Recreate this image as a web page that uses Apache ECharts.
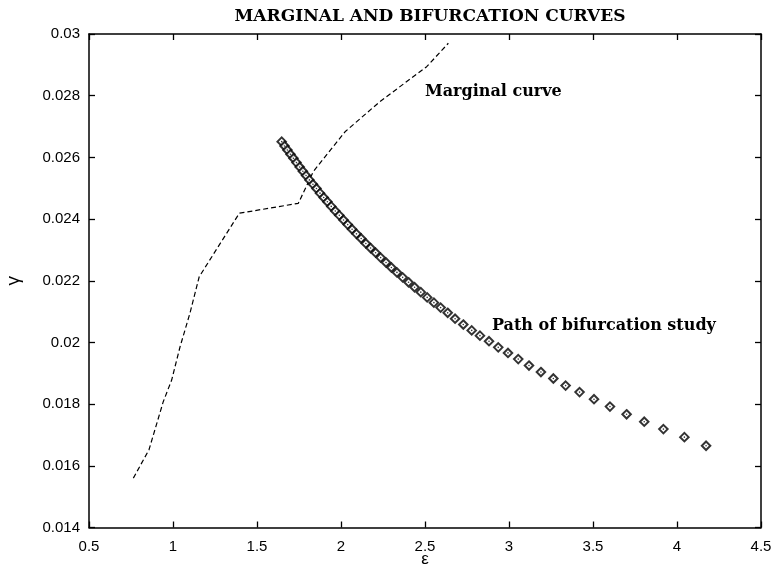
<!DOCTYPE html>
<html>
<head>
<meta charset="utf-8">
<script src="https://cdn.jsdelivr.net/npm/echarts@6/dist/echarts.min.js"></script>
<style>html,body{margin:0;padding:0;background:#fff;}#c{width:772px;height:568px;}</style>
</head>
<body>
<div id="c"></div>
<script>
const titleText = 'MARGINAL AND BIFURCATION CURVES';
const xName = 'ε';
const yName = 'γ';
const marginalLabel = 'Marginal curve';
const pathLabel = 'Path of bifurcation study';

const marginalEps = [0.764, 0.857, 0.942, 0.992, 1.042, 1.101, 1.156, 1.395, 1.746, 1.835, 2.024, 2.232, 2.510, 2.639];
const marginalGamma = [0.0156, 0.01652, 0.01808, 0.01878, 0.01986, 0.02095, 0.02213, 0.02419, 0.02451, 0.02554, 0.02683, 0.02781, 0.02894, 0.0297];

const pathEps = [1.647,1.664,1.681,1.699,1.717,1.735,1.754,1.773,1.792,1.812,1.833,1.854,1.875,1.897,1.919,1.942,1.966,1.990,2.015,2.040,2.066,2.092,2.120,2.148,2.176,2.206,2.236,2.268,2.300,2.333,2.367,2.402,2.438,2.475,2.513,2.553,2.593,2.635,2.679,2.728,2.778,2.827,2.881,2.936,2.994,3.055,3.119,3.190,3.264,3.337,3.420,3.506,3.601,3.700,3.805,3.919,4.044,4.173];
const pathGamma = [0.02651,0.02637,0.02624,0.02610,0.02597,0.02583,0.02569,0.02555,0.02541,0.02527,0.02513,0.02499,0.02484,0.02470,0.02456,0.02441,0.02426,0.02412,0.02397,0.02382,0.02367,0.02352,0.02337,0.02321,0.02306,0.02291,0.02275,0.02259,0.02243,0.02227,0.02211,0.02195,0.02179,0.02163,0.02146,0.02129,0.02113,0.02096,0.02077,0.02058,0.02039,0.02022,0.02004,0.01984,0.01966,0.01946,0.01925,0.01904,0.01883,0.0186,0.01839,0.01816,0.01792,0.01767,0.01743,0.01719,0.01693,0.01665];

const xTicks = [0.5, 1, 1.5, 2, 2.5, 3, 3.5, 4, 4.5];
const yTicks = [0.014, 0.016, 0.018, 0.02, 0.022, 0.024, 0.026, 0.028, 0.03];

const marginalData = marginalEps.map((e, i) => [e, marginalGamma[i]]);
const pathData = pathEps.map((e, i) => [e, pathGamma[i]]);

const chart = echarts.init(document.getElementById('c'), null, {renderer: 'canvas'});
const sans = 'Liberation Sans';
const serif = 'DejaVu Serif';
const axisLine = {show: true, lineStyle: {color: '#000', width: 1.5}};
const tick = {show: true, inside: true, length: 6, lineStyle: {color: '#000', width: 1.3}};

function fmtY(v) { return String(parseFloat(v.toFixed(4))); }
function fmtX(v) { return String(parseFloat(v.toFixed(2))); }

chart.setOption({
  animation: false,
  backgroundColor: '#fff',
  title: {
    text: titleText, left: 425, top: 3, textAlign: 'center',
    textStyle: {fontFamily: serif, fontWeight: 'bold', fontSize: 17, color: '#000'}
  },
  grid: {left: 89, right: 11, top: 34, bottom: 40.5, containLabel: false, outerBoundsMode: 'none'},
  xAxis: [{
    type: 'value', min: xTicks[0], max: xTicks[xTicks.length - 1], interval: 0.5,
    position: 'bottom',
    name: xName, nameLocation: 'middle', nameGap: 23, nameMoveOverlap: false,
    nameTextStyle: {fontFamily: sans, fontSize: 17, color: '#000'},
    axisLine: axisLine, axisTick: tick, splitLine: {show: false},
    axisLabel: {fontFamily: sans, fontSize: 15, color: '#000', margin: 12, formatter: fmtX}
  }, {
    type: 'value', min: xTicks[0], max: xTicks[xTicks.length - 1], interval: 0.5,
    position: 'top', axisLine: axisLine, axisTick: tick, splitLine: {show: false},
    axisLabel: {show: false}
  }],
  yAxis: [{
    type: 'value', min: yTicks[0], max: yTicks[yTicks.length - 1], interval: 0.002,
    position: 'left',
    name: yName, nameLocation: 'middle', nameGap: 66, nameRotate: 90, nameMoveOverlap: false,
    nameTextStyle: {fontFamily: sans, fontSize: 19, color: '#000'},
    axisLine: axisLine, axisTick: tick, splitLine: {show: false},
    axisLabel: {fontFamily: sans, fontSize: 15, color: '#000', margin: 9, formatter: fmtY}
  }, {
    type: 'value', min: yTicks[0], max: yTicks[yTicks.length - 1], interval: 0.002,
    position: 'right', axisLine: axisLine, axisTick: tick, splitLine: {show: false},
    axisLabel: {show: false}
  }],
  series: [{
    type: 'line', data: marginalData, xAxisIndex: 0, yAxisIndex: 0,
    showSymbol: false, symbol: 'none',
    lineStyle: {color: '#000', width: 1.2, type: [5, 3]},
    z: 2
  }, {
    type: 'scatter', data: pathData, xAxisIndex: 0, yAxisIndex: 0,
    symbol: 'diamond', symbolSize: 8.5,
    itemStyle: {color: '#fff', borderColor: '#000', borderWidth: 2},
    z: 3
  }, {
    type: 'scatter', data: pathData, xAxisIndex: 0, yAxisIndex: 0,
    symbol: 'circle', symbolSize: 1.6,
    itemStyle: {color: '#000'},
    z: 4
  }],
  graphic: [{
    type: 'text', left: 425, top: 84,
    style: {text: marginalLabel, fontFamily: serif, fontWeight: 'bold', fontSize: 16, fill: '#000'}
  }, {
    type: 'text', left: 492, top: 318,
    style: {text: pathLabel, fontFamily: serif, fontWeight: 'bold', fontSize: 16, fill: '#000'}
  }]
});
</script>
</body>
</html>
